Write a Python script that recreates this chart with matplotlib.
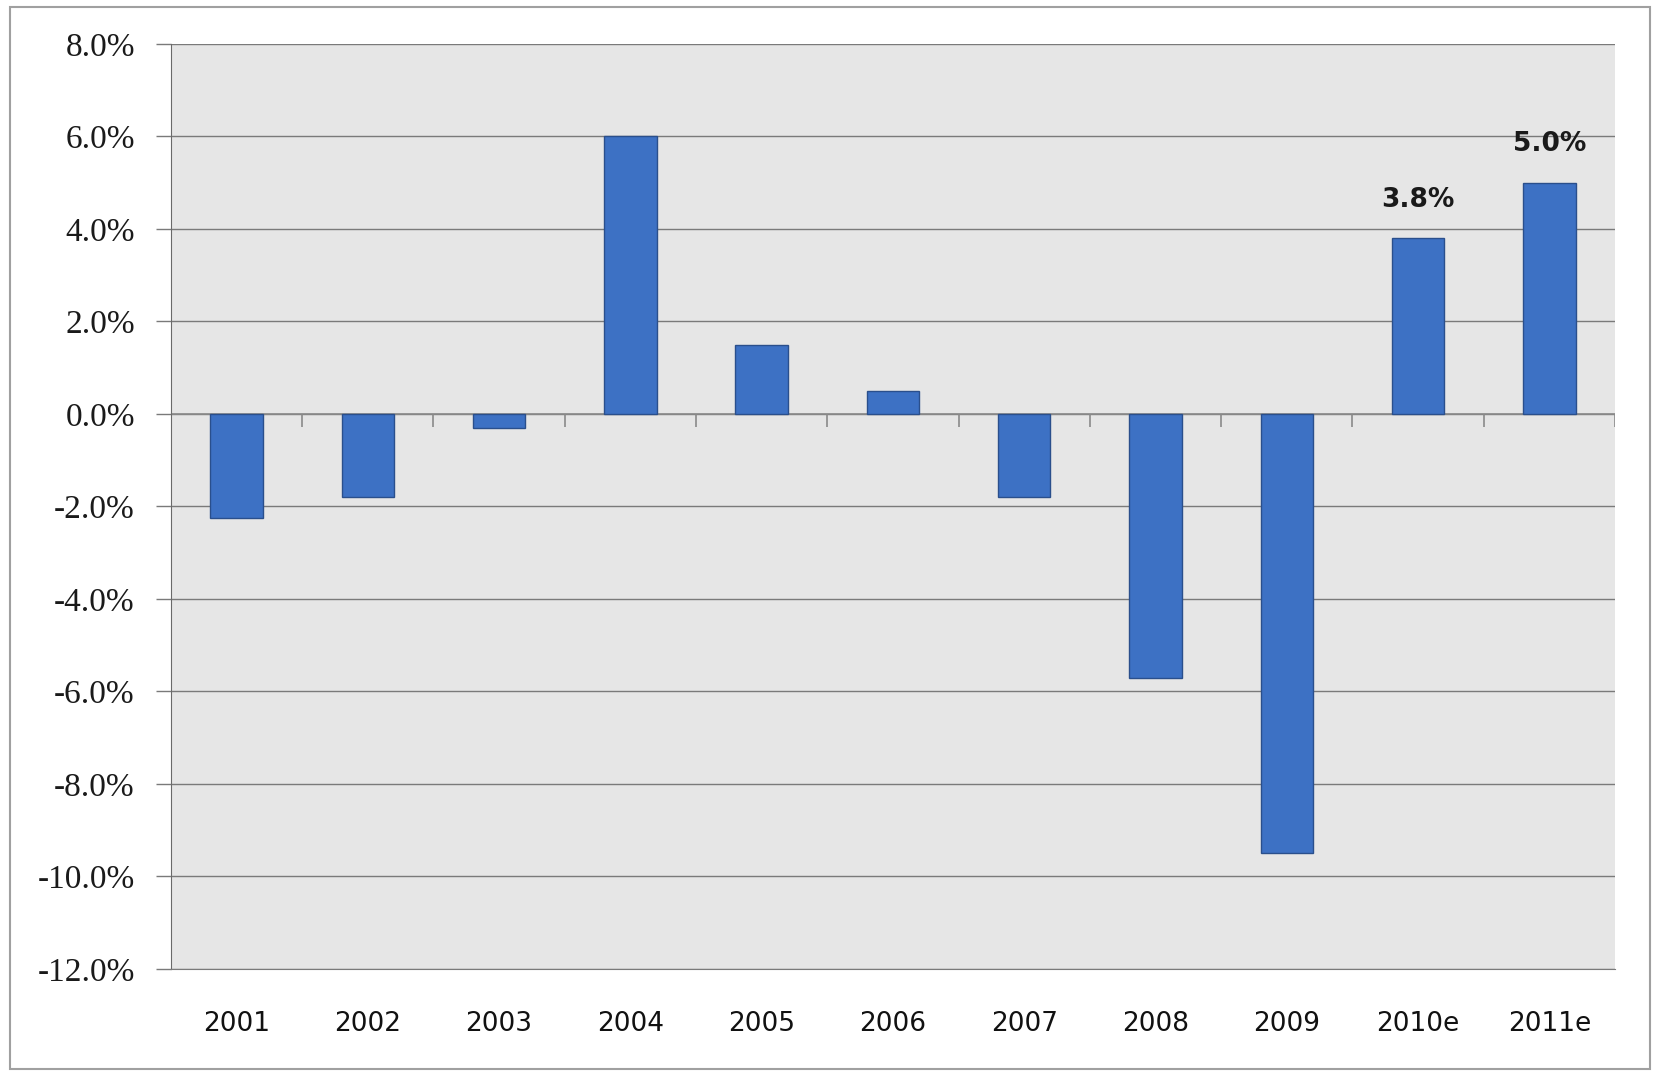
import numpy as np
import matplotlib
matplotlib.use('Agg')
import matplotlib.pyplot as plt
from matplotlib.patches import Rectangle
from matplotlib.ticker import FuncFormatter

# ── Data ───────────────────────────────────────────────────────────────────
years   = ['2001', '2002', '2003', '2004', '2005', '2006', '2007', '2008',
           '2009', '2010e', '2011e']
growth  = [-2.25, -1.8, -0.3, 6.0, 1.5, 0.5, -1.8, -5.7, -9.5, 3.8, 5.0]
labelled = ['2010e', '2011e']
y_ticks = [8, 6, 4, 2, 0, -2, -4, -6, -8, -10, -12]

BAR_COLOR  = '#3d71c4'
EDGE_COLOR = '#2a4f8c'

fig = plt.figure(figsize=(16.53, 10.72), dpi=100)
ax = fig.add_axes([0.1034, 0.0961, 0.8736, 0.8629])
ax.set_facecolor('#e6e6e6')

x = np.arange(len(years))
bars = ax.bar(x, growth, width=0.4, color=BAR_COLOR, edgecolor=EDGE_COLOR,
              linewidth=1.0, zorder=3)

# value labels on the forecast years
for xi, yr, v in zip(x, years, growth):
    if yr in labelled:
        ax.text(xi, v + 0.55, f'{v:.1f}%', ha='center', va='bottom',
                fontsize=19, fontweight='bold', color='#1a1a1a', zorder=4)

ax.set_xlim(-0.5, len(years) - 0.5)
ax.set_ylim(-12, 8)
ax.set_yticks(y_ticks)
ax.yaxis.set_major_formatter(FuncFormatter(lambda v, p: f'{v:.1f}%'))
ax.grid(axis='y', color='#7a7a7a', linewidth=1.0, zorder=1)
ax.set_axisbelow(True)

# zero line with category boundary ticks
ax.axhline(0, color='#8a8a8a', linewidth=1.2, zorder=2)
ax.vlines(np.arange(len(years) + 1) - 0.5, -0.28, 0, color='#8a8a8a',
          linewidth=1.2, zorder=2)

ax.set_xticks(x)
ax.set_xticklabels(years, fontsize=19, color='#111111')
ax.tick_params(axis='x', length=0, pad=30)
ax.tick_params(axis='y', length=11, width=1.0, color='#7a7a7a', pad=15)
for lbl in ax.get_yticklabels():
    lbl.set_fontfamily('Liberation Serif')
    lbl.set_fontsize(24)
    lbl.set_color('#1a1a1a')

for side in ['top', 'right']:
    ax.spines[side].set_visible(False)
ax.spines['left'].set_color('#6a6a6a')
ax.spines['bottom'].set_color('#7a7a7a')

# outer chart frame
fig.patches.append(Rectangle((10 / 1653, 3 / 1072), 1640 / 1653, 1062 / 1072,
                             transform=fig.transFigure, fill=False,
                             edgecolor='#a0a0a0', linewidth=1.5))

fig.savefig('out.png', dpi=100, facecolor='white')
